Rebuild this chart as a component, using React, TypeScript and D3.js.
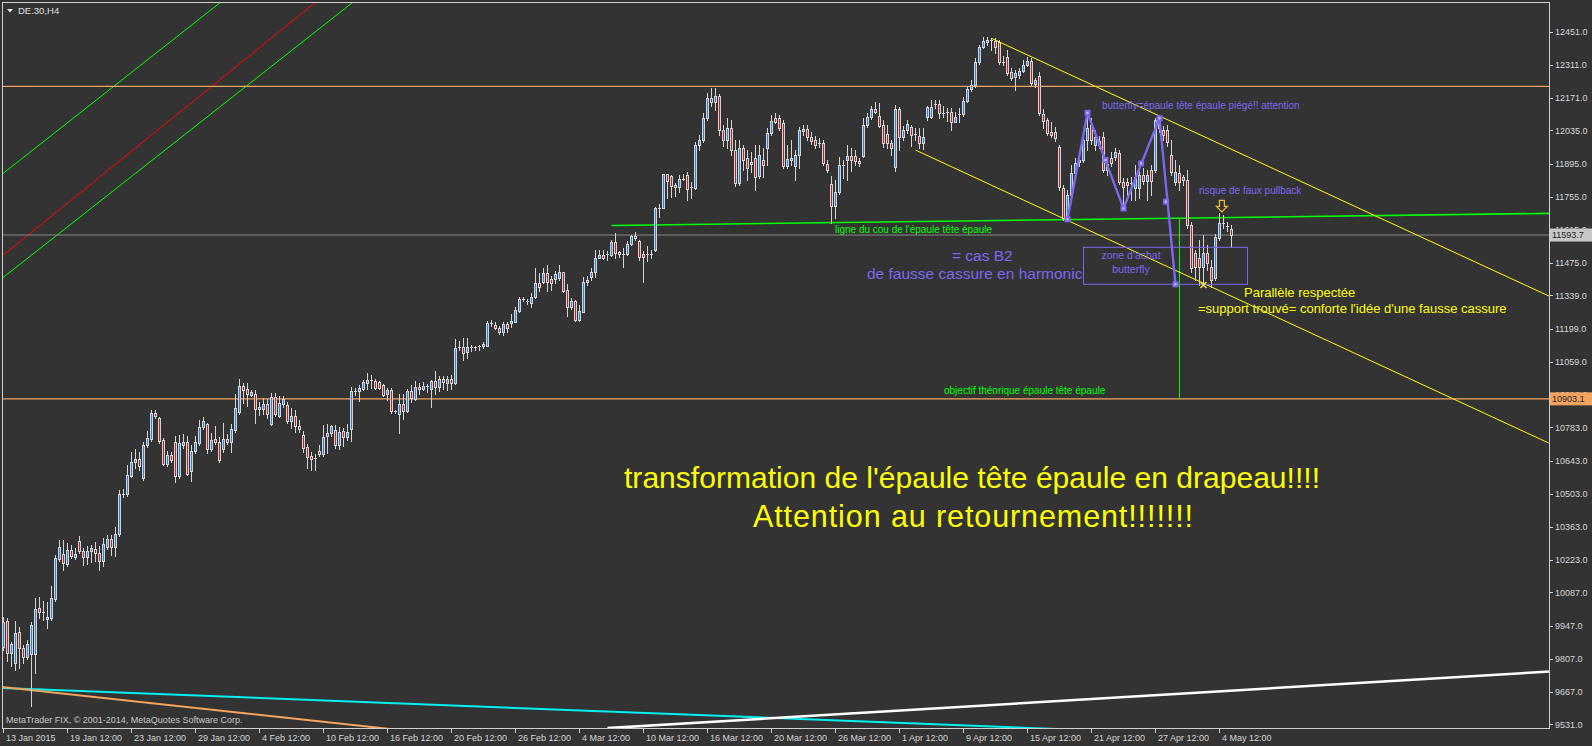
import React from 'react';
import * as d3 from 'd3';

// DE.30 H4 candles (prices)
const OPEN = [
  9858, 9966, 9832, 9789, 9920, 9853, 9815, 9828, 9828, 10021,
  10004, 9975, 9979, 10059, 10228, 10249, 10206, 10265, 10236, 10304,
  10261, 10236, 10263, 10270, 10253, 10219, 10278, 10312, 10278, 10333,
  10501, 10502, 10578, 10636, 10649, 10569, 10708, 10734, 10843, 10822,
  10730, 10628, 10666, 10721, 10578, 10708, 10721, 10599, 10683, 10717,
  10785, 10797, 10691, 10734, 10721, 10691, 10734, 10721, 10772, 10848,
  10957, 10944, 10921, 10923, 10860, 10862, 10881, 10797, 10911, 10832,
  10881, 10877, 10811, 10831, 10790, 10751, 10699, 10662, 10652, 10683,
  10669, 10745, 10758, 10770, 10708, 10768, 10743, 10777, 10935, 10935,
  10945, 10971, 10978, 10977, 10973, 10961, 10922, 10939, 10849, 10838,
  10880, 10851, 10935, 10904, 10953, 10943, 10957, 10943, 10978, 10954,
  10985, 10971, 10985, 10971, 11120, 11120, 11101, 11119, 11120, 11124,
  11124, 11128, 11224, 11216, 11202, 11183, 11218, 11223, 11228, 11273,
  11324, 11312, 11308, 11333, 11390, 11394, 11432, 11407, 11407, 11414,
  11437, 11362, 11289, 11315, 11235, 11270, 11394, 11418, 11437, 11496,
  11510, 11512, 11510, 11566, 11521, 11515, 11515, 11555, 11588, 11569,
  11512, 11511, 11511, 11529, 11708, 11709, 11850, 11843, 11805, 11795,
  11831, 11847, 11791, 11792, 11973, 11994, 12087, 12171, 12155, 12180,
  12037, 11994, 12045, 11952, 11814, 11961, 11918, 11893, 11918, 11843,
  11910, 11959, 12023, 12086, 12086, 12065, 11885, 11910, 11885, 11931,
  12032, 12039, 12008, 11994, 11980, 11980, 11893, 11809, 11717, 11774,
  11889, 11910, 11928, 11928, 11906, 11927, 12058, 12090, 12125, 12096,
  12058, 12020, 11980, 11882, 12125, 12008, 12037, 12048, 12017, 12012,
  11980, 12093, 12093, 12143, 12146, 12107, 12114, 12114, 12072, 12104,
  12104, 12160, 12208, 12226, 12322, 12385, 12409, 12416, 12412, 12409,
  12323, 12346, 12282, 12261, 12268, 12287, 12311, 12327, 12229, 12265,
  12103, 12079, 12027, 12027, 11966, 11791, 11664, 11762, 11855, 11902,
  11910, 11994, 12058, 11973, 11973, 12007, 11868, 11918, 11923, 11940,
  11817, 11817, 11813, 11792, 11792, 11847, 11821, 11868, 11868, 12070,
  12037, 12037, 11931, 11817, 11855, 11838, 11826, 11636, 11518, 11497,
  11459, 11518, 11459, 11413, 11581, 11644, 11629, 11618,
];

const HIGH = [
  9983, 9979, 9878, 9966, 9941, 9865, 9887, 9962, 10064, 10068,
  10051, 10047, 10114, 10245, 10308, 10308, 10295, 10287, 10274, 10325,
  10274, 10282, 10287, 10299, 10282, 10316, 10329, 10329, 10363, 10519,
  10523, 10624, 10679, 10691, 10679, 10721, 10768, 10856, 10856, 10827,
  10738, 10683, 10679, 10746, 10751, 10755, 10746, 10708, 10746, 10814,
  10827, 10801, 10759, 10789, 10742, 10801, 10755, 10797, 10923, 10986,
  10970, 10970, 10940, 10940, 10890, 10907, 10902, 10928, 10928, 10915,
  10915, 10890, 10864, 10856, 10814, 10768, 10713, 10679, 10670, 10708,
  10793, 10797, 10793, 10793, 10785, 10780, 10797, 10953, 10949, 10961,
  10983, 11012, 11004, 10987, 10978, 10966, 10949, 10949, 10856, 10923,
  10923, 10945, 10961, 10978, 10970, 10974, 10966, 10983, 11020, 10999,
  10999, 10999, 11004, 11155, 11147, 11160, 11160, 11130, 11126, 11130,
  11143, 11232, 11236, 11227, 11211, 11227, 11227, 11261, 11291, 11332,
  11332, 11324, 11349, 11455, 11434, 11455, 11467, 11421, 11442, 11467,
  11438, 11387, 11328, 11320, 11299, 11417, 11421, 11455, 11531, 11531,
  11531, 11526, 11573, 11602, 11526, 11539, 11569, 11594, 11608, 11573,
  11526, 11548, 11531, 11712, 11725, 11851, 11851, 11847, 11813, 11847,
  11851, 11859, 11817, 11986, 12015, 12108, 12192, 12214, 12214, 12188,
  12058, 12087, 12079, 11994, 11994, 11973, 11952, 11944, 11973, 11973,
  11961, 12045, 12100, 12108, 12100, 12079, 11973, 11994, 11952, 12049,
  12058, 12058, 12028, 12011, 12003, 11994, 11910, 11843, 11826, 11924,
  11910, 11973, 11961, 11952, 11918, 12087, 12108, 12138, 12156, 12150,
  12079, 12058, 11994, 12142, 12133, 12053, 12079, 12058, 12045, 12045,
  12045, 12138, 12163, 12163, 12163, 12138, 12129, 12129, 12112, 12129,
  12175, 12222, 12247, 12340, 12395, 12430, 12429, 12423, 12423, 12416,
  12349, 12374, 12298, 12290, 12298, 12332, 12346, 12340, 12256, 12282,
  12125, 12087, 12070, 12049, 11973, 11805, 11784, 11889, 11918, 11923,
  12011, 12109, 12087, 12037, 12011, 12028, 11910, 11944, 11961, 11952,
  11834, 11834, 11838, 11889, 11868, 11876, 11868, 11889, 12087, 12086,
  12053, 12058, 11994, 11910, 11889, 11847, 11868, 11649, 11531, 11573,
  11594, 11552, 11488, 11598, 11687, 11678, 11649, 11636,
];

const LOW = [
  9844, 9798, 9777, 9760, 9769, 9790, 9806, 9608, 9747, 9979,
  9971, 9937, 9971, 10051, 10219, 10182, 10198, 10232, 10228, 10253,
  10202, 10206, 10215, 10219, 10181, 10198, 10270, 10245, 10240, 10325,
  10489, 10494, 10574, 10611, 10603, 10561, 10700, 10725, 10822, 10717,
  10624, 10620, 10636, 10552, 10569, 10696, 10582, 10557, 10675, 10708,
  10776, 10675, 10683, 10713, 10636, 10679, 10713, 10679, 10763, 10839,
  10885, 10873, 10915, 10801, 10835, 10839, 10822, 10793, 10831, 10827,
  10869, 10801, 10780, 10763, 10763, 10679, 10611, 10603, 10603, 10662,
  10662, 10675, 10746, 10696, 10692, 10704, 10730, 10725, 10919, 10894,
  10940, 10945, 10949, 10945, 10945, 10915, 10898, 10843, 10843, 10759,
  10818, 10848, 10890, 10898, 10923, 10940, 10932, 10869, 10923, 10936,
  10945, 10940, 10945, 10966, 11109, 11067, 11075, 11105, 11109, 11109,
  11117, 11126, 11211, 11197, 11176, 11172, 11185, 11206, 11227, 11269,
  11315, 11303, 11291, 11328, 11358, 11391, 11358, 11362, 11391, 11404,
  11353, 11252, 11282, 11231, 11231, 11269, 11383, 11404, 11417, 11497,
  11493, 11488, 11505, 11497, 11501, 11460, 11510, 11552, 11573, 11488,
  11397, 11484, 11497, 11526, 11671, 11708, 11750, 11754, 11758, 11775,
  11826, 11741, 11750, 11788, 11952, 11986, 12079, 12138, 12121, 12016,
  11969, 11961, 11931, 11800, 11805, 11868, 11826, 11859, 11784, 11834,
  11838, 11889, 12015, 12066, 12037, 11876, 11876, 11889, 11826, 11876,
  12016, 11994, 11978, 11961, 11965, 11889, 11859, 11646, 11664, 11767,
  11834, 11826, 11865, 11889, 11885, 11923, 12049, 12083, 12108, 12049,
  11965, 11961, 11931, 11865, 11952, 11994, 12024, 11969, 11994, 11961,
  11957, 12079, 12087, 12129, 12087, 12091, 12074, 12037, 12070, 12070,
  12095, 12155, 12201, 12218, 12315, 12382, 12395, 12374, 12361, 12315,
  12311, 12268, 12247, 12205, 12256, 12281, 12306, 12226, 12218, 12100,
  12045, 12015, 12007, 11990, 11784, 11657, 11653, 11754, 11843, 11885,
  11902, 11952, 11978, 11952, 11961, 11859, 11847, 11885, 11910, 11809,
  11706, 11741, 11741, 11741, 11750, 11809, 11741, 11762, 11859, 12028,
  11994, 11969, 11847, 11805, 11784, 11805, 11623, 11438, 11404, 11383,
  11383, 11446, 11375, 11404, 11573, 11623, 11611, 11545,
];

const CLOSE = [
  9964, 9832, 9870, 9916, 9853, 9815, 9870, 9950, 10017, 10004,
  10000, 9983, 10063, 10232, 10278, 10211, 10265, 10240, 10249, 10261,
  10236, 10261, 10273, 10253, 10219, 10291, 10312, 10278, 10333, 10502,
  10502, 10582, 10636, 10649, 10620, 10708, 10738, 10843, 10831, 10725,
  10628, 10666, 10645, 10578, 10717, 10721, 10586, 10683, 10721, 10785,
  10810, 10691, 10730, 10721, 10645, 10734, 10721, 10776, 10864, 10957,
  10940, 10923, 10932, 10860, 10869, 10880, 10839, 10911, 10839, 10884,
  10901, 10811, 10831, 10790, 10776, 10697, 10659, 10648, 10651, 10669,
  10741, 10759, 10787, 10708, 10763, 10743, 10763, 10935, 10936, 10950,
  10973, 10981, 10981, 10950, 10950, 10919, 10939, 10853, 10850, 10881,
  10853, 10935, 10906, 10953, 10943, 10956, 10955, 10978, 10953, 10985,
  10973, 10985, 10971, 11117, 11122, 11098, 11120, 11120, 11119, 11125,
  11134, 11224, 11223, 11201, 11184, 11219, 11201, 11232, 11278, 11324,
  11322, 11314, 11331, 11390, 11375, 11432, 11396, 11393, 11428, 11438,
  11359, 11289, 11315, 11235, 11273, 11394, 11404, 11437, 11496, 11510,
  11498, 11513, 11566, 11519, 11513, 11514, 11555, 11588, 11580, 11502,
  11502, 11512, 11512, 11706, 11709, 11850, 11823, 11802, 11795, 11829,
  11830, 11787, 11795, 11973, 11994, 12087, 12171, 12155, 12180, 12037,
  11994, 12045, 11952, 11814, 11961, 11910, 11876, 11902, 11840, 11931,
  11889, 12023, 12074, 12072, 12044, 11885, 11914, 11917, 11931, 12037,
  12041, 12008, 11990, 11972, 11979, 11896, 11868, 11717, 11776, 11889,
  11888, 11928, 11910, 11906, 11896, 12056, 12090, 12125, 12114, 12055,
  11980, 11980, 11959, 12125, 12008, 12037, 12061, 12015, 12018, 11980,
  12006, 12132, 12135, 12146, 12107, 12108, 12107, 12072, 12090, 12103,
  12160, 12208, 12226, 12322, 12385, 12412, 12416, 12415, 12388, 12322,
  12322, 12278, 12254, 12276, 12287, 12311, 12327, 12236, 12247, 12107,
  12076, 12023, 12015, 12002, 11797, 11664, 11762, 11855, 11897, 11910,
  11994, 12045, 11994, 12007, 11990, 11868, 11893, 11897, 11944, 11817,
  11796, 11805, 11812, 11838, 11847, 11821, 11847, 11821, 12079, 12045,
  12015, 11986, 11859, 11859, 11817, 11826, 11636, 11455, 11459, 11459,
  11518, 11476, 11404, 11585, 11644, 11643, 11631, 11593.7,
];

// Axis annotations
const PRICE_TICKS = [
  12451, 12311, 12171, 12035, 11895, 11755, 11615, 11475, 11339, 11199, 11059,
  10919, 10783, 10643, 10503, 10363, 10223, 10087, 9947, 9807, 9667, 9531,
];
const TIME_LABELS = [
  '13 Jan 2015', '19 Jan 12:00', '23 Jan 12:00', '29 Jan 12:00', '4 Feb 12:00',
  '10 Feb 12:00', '16 Feb 12:00', '20 Feb 12:00', '26 Feb 12:00', '4 Mar 12:00',
  '10 Mar 12:00', '16 Mar 12:00', '20 Mar 12:00', '26 Mar 12:00', '1 Apr 12:00',
  '9 Apr 12:00', '15 Apr 12:00', '21 Apr 12:00', '27 Apr 12:00', '4 May 12:00',
];
const BARS_PER_LABEL = 16;

// Price levels
const BID = 11593.7;
const RESISTANCE_LEVEL = 12220.8;
const TARGET_LEVEL = 10903.1;

// Trend objects: [bar, price] anchor pairs
const FAN_LINES: [number, number][][] = [
  [[0, 11855], [60, 12651]],
  [[0, 11510], [90, 12739]],
  [[0, 11416], [100, 12743]],
];
const NECKLINE: [number, number][] = [[152, 11634], [386, 11685]];
const CHANNEL_UPPER: [number, number][] = [[247, 12423], [380, 11386]];
const CHANNEL_LOWER: [number, number][] = [[228, 11952], [380, 10766]];
const TARGET_BAR = 294;
const SLOPE_CYAN: [number, number][] = [[0, 9684], [256, 9516]];
const SLOPE_ORANGE: [number, number][] = [[0, 9688], [94, 9516]];
const SLOPE_WHITE: [number, number][] = [[151, 9515], [386, 9753]];

// Butterfly pattern X-A-B-C-D and its helper markers
const BUTTERFLY: [number, number][] = [
  [266, 11660], [271, 12109], [280, 11706], [289, 12086], [293, 11386],
];
const BUTTERFLY_MARKS: [number, number][] = [[275.5, 11910], [284.4, 11896], [290.6, 11734]];
const BUY_ZONE: [number, number][] = [[270, 11542], [311, 11386]];
const SUPPORT_MARK: [number, number] = [300, 11383];
const PULLBACK_ARROW: [number, number] = [304.6, 11740];

const W = 1592;
const H = 746;
const PL = 2.5, PT = 2.5, PR = 1549.5, PB = 728.5;

const FONT = "'Liberation Sans', Arial, sans-serif";
const BULL = '#2a86dc';
const BEAR = '#b02a2a';
const OUTLINE = '#d4d4d4';
const PURPLE = '#7b68ee';
const LIME = '#00ff00';
const YELLOW = '#ffff00';
const SANDY = '#f4a460';

export default function App() {
  const x = d3.scaleLinear().domain([0, 386.5]).range([3.5, 1549.5]);
  const y = d3.scaleLinear().domain([9531, 12451]).range([724.3, 31.7]);

  const lineFn = d3.line<[number, number]>().x((d) => x(d[0])).y((d) => y(d[1]));

  // extend a two-anchor line between two bar positions
  const priceAt = (a: [number, number][], b: number) => {
    const [[b1, p1], [b2, p2]] = a;
    return p1 + ((p2 - p1) * (b - b1)) / (b2 - b1);
  };
  const extend = (a: [number, number][], from: number, to: number): [number, number][] => [
    [from, priceAt(a, from)],
    [to, priceAt(a, to)],
  ];

  const candles = OPEN.map((o, i) => {
    const c = CLOSE[i];
    const hi = Math.max(HIGH[i], o, c);
    const lo = Math.min(LOW[i], o, c);
    const cx = Math.floor(x(i));
    const yTop = Math.round(y(Math.max(o, c)));
    const yBot = Math.round(y(Math.min(o, c)));
    const yHi = Math.round(y(hi));
    const yLo = Math.round(y(lo));
    const bull = c >= o;
    return (
      <g key={i}>
        <rect x={cx} y={yHi} width={1} height={Math.max(1, yLo - yHi + 1)} fill={OUTLINE} />
        {yBot - yTop < 2 ? (
          <rect x={cx - 1} y={yTop} width={3} height={1} fill={OUTLINE} />
        ) : (
          <>
            <rect x={cx - 1} y={yTop} width={3} height={yBot - yTop + 1} fill={OUTLINE} />
            <rect x={cx} y={yTop + 1} width={1} height={yBot - yTop - 1} fill={bull ? BULL : BEAR} />
          </>
        )}
      </g>
    );
  });

  const bidY = y(BID);
  const targetY = y(TARGET_LEVEL);
  const arrowX = x(PULLBACK_ARROW[0]);
  const arrowY = y(PULLBACK_ARROW[1]);
  const supX = x(SUPPORT_MARK[0]);
  const supY = y(SUPPORT_MARK[1]);
  const zx0 = x(BUY_ZONE[0][0]);
  const zy0 = y(BUY_ZONE[0][1]);
  const zx1 = x(BUY_ZONE[1][0]);
  const zy1 = y(BUY_ZONE[1][1]);

  return (
    <div style={{ position: 'fixed', left: 0, top: 0, width: W, height: H, background: '#333333' }}>
      <svg width={W} height={H} style={{ display: 'block' }} fontFamily={FONT}>
        <defs>
          <clipPath id="plot">
            <rect x={PL} y={PT} width={PR - PL} height={PB - PT} />
          </clipPath>
        </defs>
        <rect x={0} y={0} width={W} height={H} fill="#333333" />

        <g clipPath="url(#plot)">
          {/* fan lines top-left */}
          {FAN_LINES.map((l, i) => (
            <path
              key={i}
              d={lineFn(extend(l, -5, 120)) || ''}
              stroke={i === 1 ? '#ff0000' : LIME}
              strokeWidth={1}
              fill="none"
            />
          ))}

          {/* horizontal levels */}
          <line x1={PL} x2={PR} y1={y(RESISTANCE_LEVEL)} y2={y(RESISTANCE_LEVEL)} stroke={SANDY} strokeWidth={1.2} />
          <line x1={PL} x2={PR} y1={targetY} y2={targetY} stroke={SANDY} strokeWidth={1.2} />
          <line x1={PL} x2={PR} y1={bidY} y2={bidY} stroke="#8a8a8a" strokeWidth={1} />

          {/* neckline and target projection */}
          <path d={lineFn(extend(NECKLINE, NECKLINE[0][0], 400)) || ''} stroke={LIME} strokeWidth={1.6} fill="none" />
          <line
            x1={Math.floor(x(TARGET_BAR)) + 0.5}
            x2={Math.floor(x(TARGET_BAR)) + 0.5}
            y1={y(priceAt(NECKLINE, TARGET_BAR))}
            y2={targetY}
            stroke={LIME}
            strokeWidth={1}
          />

          {/* bottom slope lines */}
          <path d={lineFn(extend(SLOPE_CYAN, -2, 300)) || ''} stroke="#00f0f0" strokeWidth={2} fill="none" />
          <path d={lineFn(extend(SLOPE_ORANGE, -2, 120)) || ''} stroke={SANDY} strokeWidth={2} fill="none" />
          <path d={lineFn(extend(SLOPE_WHITE, SLOPE_WHITE[0][0], 400)) || ''} stroke="#ffffff" strokeWidth={2.6} fill="none" />

          {/* candles */}
          <g shapeRendering="crispEdges">{candles}</g>

          {/* falling channel */}
          <path d={lineFn(extend(CHANNEL_UPPER, CHANNEL_UPPER[0][0], 400)) || ''} stroke={YELLOW} strokeWidth={1} fill="none" />
          <path d={lineFn(extend(CHANNEL_LOWER, CHANNEL_LOWER[0][0], 400)) || ''} stroke={YELLOW} strokeWidth={1} fill="none" />

          {/* butterfly */}
          <rect x={zx0} y={zy0} width={zx1 - zx0} height={zy1 - zy0} fill="none" stroke={PURPLE} strokeWidth={1} />
          <path d={lineFn(BUTTERFLY) || ''} stroke={PURPLE} strokeWidth={2.4} fill="none" strokeLinejoin="round" />
          {[...BUTTERFLY, ...BUTTERFLY_MARKS].map((p, i) => (
            <g key={i}>
              <rect x={x(p[0]) - 3} y={y(p[1]) - 3} width={6} height={6} fill={PURPLE} />
              <rect x={x(p[0]) - 1} y={y(p[1]) - 1} width={2} height={2} fill="#d8d0ff" />
            </g>
          ))}

          {/* support cross */}
          <path
            d={`M${supX - 3},${supY - 3}L${supX + 3},${supY + 3}M${supX + 3},${supY - 3}L${supX - 3},${supY + 3}`}
            stroke="#f0e040"
            strokeWidth={1.6}
          />

          {/* pullback arrow */}
          <path
            d={`M${arrowX - 2.5},${arrowY}L${arrowX + 2.5},${arrowY}L${arrowX + 2.5},${arrowY + 6}L${arrowX + 5.5},${arrowY + 6}L${arrowX},${arrowY + 11.5}L${arrowX - 5.5},${arrowY + 6}L${arrowX - 2.5},${arrowY + 6}Z`}
            fill="none"
            stroke="#e8c030"
            strokeWidth={1.2}
          />

          {/* annotations */}
          <text x={835} y={233} fontSize={10} fill={LIME}>{"ligne du cou de l'épaule tête épaule"}</text>
          <text x={944} y={394} fontSize={10} fill={LIME}>{'objectif théorique épaule tête épaule'}</text>
          <text x={1102} y={109} fontSize={10} fill={PURPLE}>{'butterfly=épaule tête épaule piégé!! attention'}</text>
          <text x={1199} y={194} fontSize={10} fill={PURPLE}>{'risque de faux pullback'}</text>
          <text x={1131} y={259} fontSize={10.5} fill={PURPLE} textAnchor="middle">{"zone d'achat"}</text>
          <text x={1131} y={273} fontSize={10.5} fill={PURPLE} textAnchor="middle">{'butterfly'}</text>
          <text x={952} y={261} fontSize={15.5} fill={PURPLE}>{'= cas B2'}</text>
          <text x={867} y={279} fontSize={15.5} fill={PURPLE}>{'de fausse cassure en harmonic'}</text>
          <text x={1244} y={297} fontSize={13} fill={YELLOW}>{'Parallèle respectée'}</text>
          <text x={1198} y={313} fontSize={13} fill={YELLOW}>{"=support trouvé= conforte l'idée d'une fausse cassure"}</text>
          <text x={624} y={488} fontSize={30} fill={YELLOW} textLength={696} lengthAdjust="spacing">
            {"transformation de l'épaule tête épaule en drapeau!!!!"}
          </text>
          <text x={753} y={527} fontSize={30.5} fill={YELLOW} textLength={440} lengthAdjust="spacing">
            {'Attention au retournement!!!!!!!'}
          </text>

          <text x={6} y={723} fontSize={9} fill="#c8c8c8">{'MetaTrader FIX, © 2001-2014, MetaQuotes Software Corp.'}</text>
        </g>

        {/* frame */}
        <rect x={PL} y={PT} width={PR - PL} height={PB - PT} fill="none" stroke="#cfcfcf" strokeWidth={1} shapeRendering="crispEdges" />

        {/* title */}
        <path d="M7,9L13,9L10,12.5Z" fill="#e8e8e8" />
        <text x={18} y={14} fontSize={9.5} fill="#e0e0e0">{'DE.30,H4'}</text>

        {/* price axis */}
        <g shapeRendering="crispEdges">
          {PRICE_TICKS.map((v) => (
            <line key={v} x1={PR} x2={PR + 3} y1={Math.round(y(v)) + 0.5} y2={Math.round(y(v)) + 0.5} stroke="#cfcfcf" />
          ))}
        </g>
        {PRICE_TICKS.map((v) => (
          <text key={v} x={1555} y={y(v) + 3.2} fontSize={9} fill="#d6d6d6">
            {v.toFixed(1)}
          </text>
        ))}
        <rect x={1550} y={bidY - 6.5} width={42} height={13} fill="#c8c8c8" />
        <text x={1552} y={bidY + 3.3} fontSize={9} fill="#1e1e1e">{BID.toFixed(1)}</text>
        <rect x={1550} y={targetY - 6.5} width={42} height={13} fill={SANDY} />
        <text x={1552} y={targetY + 3.3} fontSize={9} fill="#1e1e1e">{TARGET_LEVEL.toFixed(1)}</text>

        {/* time axis */}
        <g shapeRendering="crispEdges">
          {TIME_LABELS.map((_, i) => {
            const tx = Math.floor(x(i * BARS_PER_LABEL)) + 0.5;
            return <line key={i} x1={tx} x2={tx} y1={PB} y2={PB + 4} stroke="#cfcfcf" />;
          })}
        </g>
        {TIME_LABELS.map((t, i) => (
          <text key={t} x={Math.floor(x(i * BARS_PER_LABEL)) + 3} y={741} fontSize={9} fill="#d6d6d6">
            {t}
          </text>
        ))}
      </svg>
    </div>
  );
}
